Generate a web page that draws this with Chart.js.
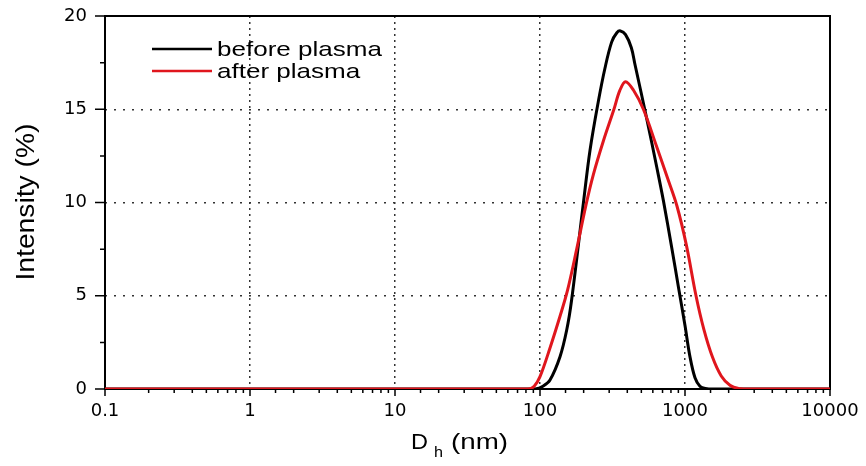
<!DOCTYPE html>
<html lang="en">
<head>
<meta charset="UTF-8">
<title>DLS size distribution before / after plasma</title>
<script src="https://cdn.jsdelivr.net/npm/chart.js"></script>
<style>
  html, body { margin: 0; padding: 0; background: #fff; }
  #wrap { width: 866px; height: 466px; }
</style>
</head>
<body>
<div id="wrap"><canvas id="dlsChart" width="866" height="466"></canvas></div>
<script>
// Values: hydrodynamic diameter (nm) vs intensity (%)
const beforeDh = [0.1, 79.4, 92.5, 104.7, 117.2, 137.4, 152.8, 165.2, 199.1, 221.3, 252.3, 280.5, 311.9, 338.8, 358.9, 389.0, 426.6, 451.9, 544.5, 638.3, 709.6, 809.1, 899.5, 1000, 1081, 1172, 1268, 1380, 1585, 10000];
const beforeIntensity = [0, 0, 0, 0.15, 0.48, 1.73, 3.16, 4.77, 9.96, 12.8, 15.4, 17.2, 18.6, 19.1, 19.2, 19.0, 18.3, 17.4, 14.5, 11.9, 10.1, 7.6, 5.5, 3.4, 1.75, 0.6, 0.15, 0.03, 0, 0];

const afterDh = [0.1, 82.6, 91.2, 100, 117.2, 137.4, 154.9, 179.1, 208.0, 233.3, 273.5, 323.6, 354.8, 389.0, 440.6, 516.4, 631.0, 758.6, 881.0, 1023, 1191, 1349, 1549, 1778, 2042, 2344, 2818, 10000];
const afterIntensity = [0, 0, 0.15, 0.66, 2.2, 3.9, 5.3, 7.5, 9.9, 11.5, 13.3, 15.0, 16.0, 16.48, 16.03, 15.0, 13.1, 11.3, 9.8, 7.7, 5.0, 3.2, 1.7, 0.7, 0.2, 0.03, 0, 0];

const seriesLabels = ['before plasma', 'after plasma'];
const seriesColors = ['#000000', '#e0161d'];

const xTickValues = [0.1, 1, 10, 100, 1000, 10000];
const xTickLabels = ['0.1', '1', '10', '100', '1000', '10000'];
const yTickValues = [0, 5, 10, 15, 20];
const yTickLabels = ['0', '5', '10', '15', '20'];

const isDecade = v => Math.abs(Math.log10(v) - Math.round(Math.log10(v))) < 1e-6;
const findTick = (list, v) => list.findIndex(t => Math.abs(t - v) <= Math.abs(t) * 1e-6 + 1e-9);

// stretch a piece of text horizontally so it covers `width` px
function stretchedText(ctx, text, x, y, width) {
  const w = ctx.measureText(text).width;
  ctx.save();
  ctx.translate(x, y);
  ctx.scale(width / w, 1);
  ctx.fillText(text, 0, 0);
  ctx.restore();
}

// no label overhang padding, the layout padding alone places the plot box
const noOverhang = s => {
  s.paddingTop = s.paddingBottom = s.paddingLeft = s.paddingRight = 0;
};

// box, tick marks (major / minor)
const framePlugin = {
  id: 'frame',
  beforeDatasetsDraw(chart) {
    const { ctx, chartArea: a, scales: { x, y } } = chart;
    ctx.save();
    ctx.strokeStyle = '#000';
    ctx.lineWidth = 2;
    ctx.strokeRect(a.left, a.top, a.right - a.left, a.bottom - a.top);

    ctx.lineWidth = 1.5;
    ctx.beginPath();
    x.ticks.forEach(t => {
      const px = x.getPixelForValue(t.value);
      const len = isDecade(t.value) ? 7 : 4;
      ctx.moveTo(px, a.bottom);
      ctx.lineTo(px, a.bottom + len);
    });
    y.ticks.forEach(t => {
      const py = y.getPixelForValue(t.value);
      const len = findTick(yTickValues, t.value) >= 0 ? 10 : 5;
      ctx.moveTo(a.left, py);
      ctx.lineTo(a.left - len, py);
    });
    ctx.stroke();
    ctx.restore();
  },
  afterDraw(chart) {
    const { ctx } = chart;
    ctx.save();
    ctx.fillStyle = '#000';
    ctx.textBaseline = 'alphabetic';

    // legend inside the plot, top-left
    const rows = [49, 71];
    chart.data.datasets.forEach((ds, i) => {
      ctx.strokeStyle = ds.borderColor;
      ctx.lineWidth = 2.5;
      ctx.beginPath();
      ctx.moveTo(152, rows[i]);
      ctx.lineTo(212, rows[i]);
      ctx.stroke();
      ctx.font = '21px "Liberation Sans", Arial, sans-serif';
      const w = ctx.measureText(ds.label).width;
      stretchedText(ctx, ds.label, 217, rows[i] + 7, w * 1.24);
    });

    // x axis title: D with subscript h
    ctx.font = '22px "Liberation Sans", Arial, sans-serif';
    stretchedText(ctx, 'D', 411, 449, 17);
    ctx.font = '14px "Liberation Sans", Arial, sans-serif';
    stretchedText(ctx, 'h', 434, 457, 9);
    ctx.font = '22px "Liberation Sans", Arial, sans-serif';
    stretchedText(ctx, '(nm)', 451, 449, 57);

    // y axis title, rotated
    ctx.save();
    ctx.translate(27, 202);
    ctx.rotate(-Math.PI / 2);
    ctx.font = '26px "Liberation Sans", Arial, sans-serif';
    ctx.textBaseline = 'middle';
    const t = 'Intensity (%)';
    const tw = ctx.measureText(t).width;
    ctx.scale(157 / tw, 1);
    ctx.textAlign = 'center';
    ctx.fillText(t, 0, 0);
    ctx.restore();

    ctx.restore();
  }
};

const tickFont = { family: '"DejaVu Sans", sans-serif', size: 18 };

new Chart(document.getElementById('dlsChart'), {
  type: 'line',
  data: {
    datasets: [
      {
        label: seriesLabels[0],
        data: beforeDh.map((d, i) => ({ x: d, y: beforeIntensity[i] })),
        borderColor: seriesColors[0],
        order: 2
      },
      {
        label: seriesLabels[1],
        data: afterDh.map((d, i) => ({ x: d, y: afterIntensity[i] })),
        borderColor: seriesColors[1],
        order: 1
      }
    ]
  },
  options: {
    responsive: false,
    animation: false,
    layout: { padding: { top: 16, right: 36, left: 0, bottom: 0 } },
    elements: {
      point: { radius: 0 },
      line: { borderWidth: 3, tension: 0.35, fill: false, capBezierPoints: true }
    },
    plugins: {
      legend: { display: false },
      tooltip: { enabled: false }
    },
    scales: {
      x: {
        type: 'logarithmic',
        min: 0.1,
        max: 10000,
        afterFit: s => { s.height = 77; noOverhang(s); },
        grid: {
          drawTicks: false,
          lineWidth: 1.5,
          color: c => (c.tick && isDecade(c.tick.value) && c.tick.value > 0.2 && c.tick.value < 5000) ? '#333' : 'rgba(0,0,0,0)'
        },
        border: { display: false, dash: [2, 4] },
        ticks: {
          autoSkip: false,
          maxRotation: 0,
          padding: 12,
          color: '#000',
          font: tickFont,
          callback: v => {
            const i = findTick(xTickValues, v);
            return i >= 0 ? xTickLabels[i] : '';
          }
        }
      },
      y: {
        min: 0,
        max: 20,
        afterFit: s => { s.width = 105; noOverhang(s); },
        grid: {
          drawTicks: false,
          lineWidth: 1.5,
          color: c => (c.tick && c.tick.value % 5 === 0 && c.tick.value > 0 && c.tick.value < 20) ? '#333' : 'rgba(0,0,0,0)'
        },
        border: { display: false, dash: [2, 7] },
        ticks: {
          stepSize: 2.5,
          autoSkip: false,
          padding: 18,
          color: '#000',
          font: tickFont,
          callback: v => {
            const i = findTick(yTickValues, v);
            return i >= 0 ? yTickLabels[i] : '';
          }
        }
      }
    }
  },
  plugins: [framePlugin]
});
</script>
</body>
</html>
